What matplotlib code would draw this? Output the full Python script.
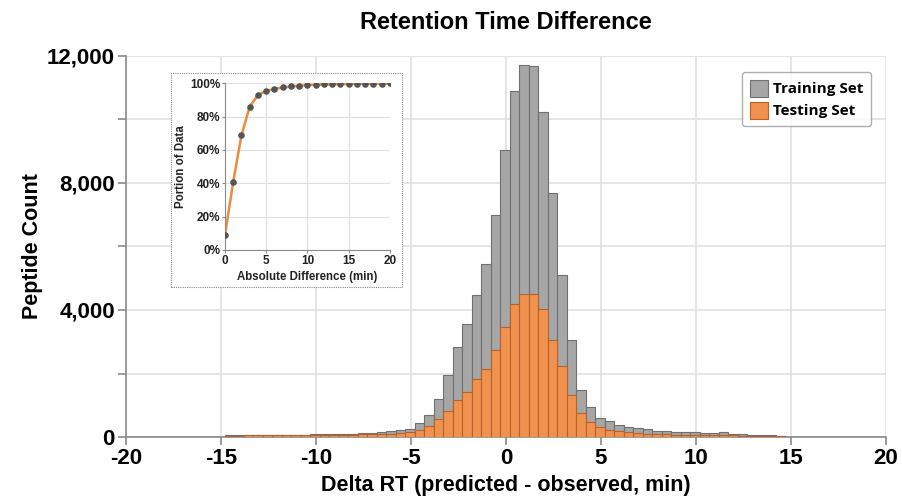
import matplotlib
matplotlib.use("Agg")
import matplotlib.pyplot as plt
import matplotlib.patches as patches
import numpy as np
from matplotlib.ticker import FuncFormatter, MultipleLocator

# Histogram data: 0.5 min bins starting at -14.8 min
bin_edges = np.arange(-14.8, 14.71, 0.5)
train_counts = [60, 60, 65, 65, 70, 70, 70, 75, 75, 80,
                85, 90, 95, 105, 120, 140, 160, 200,
                233, 265, 441, 683, 1188, 1944, 2835, 3550, 4464, 5440, 6984, 9031,
                10890, 11718, 11676, 10238, 7686, 5115, 3046, 1493, 945, 600,
                494, 389, 305, 284, 242, 189, 189, 168,
                160, 150, 140, 135, 150, 100, 80, 70, 60, 50, 40]
test_counts = [45, 45, 50, 50, 50, 50, 55, 55, 55, 60,
               60, 65, 70, 75, 80, 85, 95, 105,
               126, 158, 211, 337, 580, 819, 1156, 1418, 1840, 2133, 2753, 3465,
               4180, 4495, 4495, 4044, 3046, 2237, 1313, 768, 460, 315,
               211, 179, 158, 126, 105, 84, 80, 74,
               70, 65, 60, 58, 55, 50, 45, 40, 35, 30, 25]

# Inset: cumulative portion of data vs absolute difference
abs_diff = list(range(0, 21))
portion = [9, 41, 69, 86, 93, 95.4, 96.6, 97.5, 98.1, 98.5, 98.9,
           99.1, 99.3, 99.4, 99.5, 99.6, 99.7, 99.75, 99.8, 99.85, 99.9]

gray = '#a6a6a6'
gray_edge = '#707070'
orange = '#f0914e'
orange_edge = '#b8622a'
grid_col = '#e0e0e0'
spine_col = '#8a8a8a'

plt.rcParams['font.family'] = ['Liberation Sans', 'DejaVu Sans']
plt.rcParams['font.weight'] = 'bold'
plt.rcParams['axes.unicode_minus'] = False

fig = plt.figure(figsize=(9.03, 4.99), dpi=100)
ax = fig.add_axes([0.1395, 0.1242, 0.8415, 0.7638])

widths = np.diff(bin_edges)
ax.bar(bin_edges[:-1], train_counts, width=widths, align='edge', color=gray,
       edgecolor=gray_edge, linewidth=0.8, label='Training Set', zorder=2)
ax.bar(bin_edges[:-1], test_counts, width=widths, align='edge', color=orange,
       edgecolor=orange_edge, linewidth=0.8, label='Testing Set', zorder=3)

ax.set_xlim(-20, 20)
ax.set_ylim(0, 12000)
ax.xaxis.set_major_locator(MultipleLocator(5))
ax.yaxis.set_major_locator(MultipleLocator(4000))
ax.yaxis.set_minor_locator(MultipleLocator(2000))
ax.yaxis.set_major_formatter(FuncFormatter(lambda v, p: f'{int(v):,}'))
ax.grid(True, which='both', color=grid_col, linewidth=1.2, zorder=0)
ax.set_axisbelow(True)
for s in ['top', 'right']:
    ax.spines[s].set_visible(False)
for s in ['left', 'bottom']:
    ax.spines[s].set_color(spine_col)
    ax.spines[s].set_linewidth(1.2)
ax.tick_params(axis='both', which='both', colors=spine_col, length=6, width=1.2,
               labelsize=16, labelcolor='black', pad=2)
for lab in ax.get_xticklabels() + ax.get_yticklabels():
    lab.set_fontweight('bold')

ax.set_xlabel('Delta RT (predicted - observed, min)', fontsize=15.5, fontweight='bold', labelpad=4)
ax.set_ylabel('Peptide Count', fontsize=15.5, fontweight='bold', labelpad=3)
ax.set_title('Retention Time Difference', fontsize=17, fontweight='bold', pad=19)

leg = ax.legend(loc='upper right', bbox_to_anchor=(0.984, 0.965), frameon=True,
                fancybox=True, edgecolor='#9a9a9a', handlelength=1.2, handleheight=1.3,
                handletextpad=0.3, borderpad=0.5, labelspacing=0.35, borderaxespad=0.2,
                prop={'family': 'Open Sans', 'weight': 'bold', 'size': 11})
leg.get_frame().set_linewidth(1.0)

# Inset frame (dotted box)
frame = patches.Rectangle((171 / 903, 1 - 287 / 499), 231 / 903, 214 / 499,
                          transform=fig.transFigure, facecolor='white',
                          edgecolor='#888888', linestyle=(0, (1, 1)), linewidth=0.8, zorder=5)
fig.patches.append(frame)

ins = fig.add_axes([225 / 903, 1 - 250 / 499, 165 / 903, 166.7 / 499], zorder=6)
ins.plot(abs_diff, portion, color='#ec8a40', linewidth=1.8, zorder=2)
ins.scatter(abs_diff, portion, s=14, color='#555555', zorder=3)
ins.set_xlim(0, 20)
ins.set_ylim(0, 100)
ins.xaxis.set_major_locator(MultipleLocator(5))
ins.yaxis.set_major_locator(MultipleLocator(20))
ins.yaxis.set_major_formatter(FuncFormatter(lambda v, p: f'{int(v)}%'))
ins.grid(True, color=grid_col, linewidth=0.8)
ins.set_axisbelow(True)
for s in ['top', 'right']:
    ins.spines[s].set_visible(False)
for s in ['left', 'bottom']:
    ins.spines[s].set_color(spine_col)
    ins.spines[s].set_linewidth(0.8)
ins.tick_params(axis='both', colors=spine_col, length=2, width=0.8,
                labelsize=8.5, labelcolor='#222222', pad=1.5)
for lab in ins.get_xticklabels() + ins.get_yticklabels():
    lab.set_fontweight('bold')
ins.set_xlabel('Absolute Difference (min)', fontsize=8.3, fontweight='bold', labelpad=3, color='#222222')
ins.set_ylabel('Portion of Data', fontsize=8.3, fontweight='bold', labelpad=2, color='#222222')

fig.savefig('out.png', dpi=100)
